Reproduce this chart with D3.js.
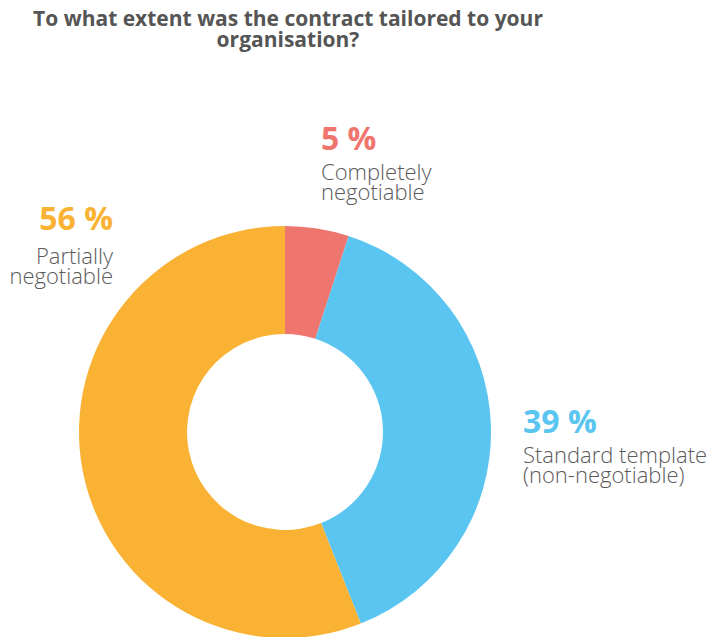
<!DOCTYPE html>
<html>
<head>
<meta charset="utf-8">
<script src="https://cdn.jsdelivr.net/npm/d3@7"></script>
<style>
  html, body { margin: 0; padding: 0; background: #fff; }
  svg { display: block; }
</style>
</head>
<body>
<svg id="chart" width="708" height="637"></svg>
<script>
// Survey answers, share of respondents (%)
const categories = ["Completely negotiable", "Standard template (non-negotiable)", "Partially negotiable"];
const values = [5, 39, 56];
const labelLines = [["Completely", "negotiable"], ["Standard template", "(non-negotiable)"], ["Partially", "negotiable"]];
const colors = ["#EF766F", "#5BC5F2", "#F9B233"];
const titleLines = ["To what extent was the contract tailored to your", "organisation?"];

// Layout
const width = 708, height = 637;
const cx = 285, cy = 432;
const outerR = 206, innerR = 98;
// where each label block sits: x, baseline of the percentage, gap to the first text line
const labelPlacement = [
  { x: 321, y: 150, gap: 30, anchor: "start" },
  { x: 523, y: 433, gap: 30, anchor: "start" },
  { x: 113, y: 230, gap: 34, anchor: "end" }
];

const svg = d3.select("#chart");
const font = "'Open Sans', 'Noto Sans', sans-serif";
const textGrey = "#5a5a5a";

// Title
const title = svg.append("text")
  .attr("text-anchor", "middle")
  .attr("font-family", font)
  .attr("font-weight", 700)
  .attr("font-size", 21)
  .attr("fill", "#555");
titleLines.forEach((line, i) => {
  title.append("tspan").attr("x", 288).attr("y", 26 + i * 21).text(line);
});

// Donut
const pie = d3.pie().sort(null).value(d => d)(values);
const arc = d3.arc().innerRadius(innerR).outerRadius(outerR);

svg.append("g")
  .attr("transform", `translate(${cx},${cy})`)
  .selectAll("path")
  .data(pie)
  .join("path")
  .attr("d", arc)
  .attr("fill", (d, i) => colors[i]);

// Labels
const labels = svg.append("g")
  .selectAll("g")
  .data(pie)
  .join("g")
  .attr("transform", (d, i) => `translate(${labelPlacement[i].x},${labelPlacement[i].y})`);

labels.append("text")
  .attr("text-anchor", (d, i) => labelPlacement[i].anchor)
  .attr("font-family", font)
  .attr("font-weight", 700)
  .attr("font-size", 32)
  .attr("fill", (d, i) => colors[i])
  .text(d => `${d.data} %`);

labels.each(function (d, i) {
  const g = d3.select(this);
  labelLines[i].forEach((line, j) => {
    g.append("text")
      .attr("y", labelPlacement[i].gap + j * 20)
      .attr("text-anchor", labelPlacement[i].anchor)
      .attr("font-family", font)
      .attr("font-weight", 300)
      .attr("font-size", 22)
      .attr("fill", textGrey)
      .text(line);
  });
});
</script>
</body>
</html>
